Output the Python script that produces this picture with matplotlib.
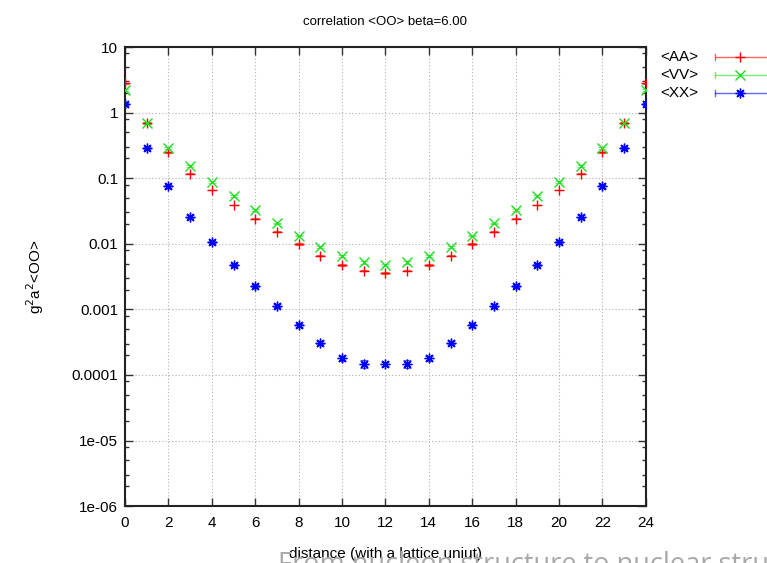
import numpy as np
import matplotlib
matplotlib.use('Agg')
import matplotlib.pyplot as plt
from matplotlib.lines import Line2D
from matplotlib.ticker import LogLocator, FixedLocator, NullFormatter

plt.rcParams['font.family'] = ['Liberation Sans', 'DejaVu Sans']

# ---------- data ----------
distance = list(range(25))
aa = [2.86, 0.69, 0.248, 0.117, 0.066, 0.039, 0.0242, 0.0153, 0.0099, 0.0066,
      0.00475, 0.00389, 0.00355, 0.00389, 0.00475, 0.0066, 0.0099, 0.0153,
      0.0242, 0.039, 0.066, 0.117, 0.248, 0.69, 2.86]
vv = [2.21, 0.70, 0.29, 0.153, 0.0875, 0.0535, 0.0327, 0.0205, 0.0133, 0.0089,
      0.0065, 0.0052, 0.00475, 0.0052, 0.0065, 0.0089, 0.0133, 0.0205, 0.0327,
      0.0535, 0.0875, 0.153, 0.29, 0.70, 2.21]
xx = [1.35, 0.285, 0.075, 0.026, 0.0106, 0.00475, 0.00228, 0.00114, 0.00057,
      0.000311, 0.000181, 0.000147, 0.000147, 0.000147, 0.000181, 0.000311,
      0.00057, 0.00114, 0.00228, 0.00475, 0.0106, 0.026, 0.075, 0.285, 1.35]
# rough error estimates (only visible around the minimum of <XX>)
aa_err = [0.15, 0.02, 0.005, 0.002, 0.001, 0.0006, 0.0004, 0.0003, 0.0002, 0.0001,
          0.0001, 0.0001, 0.0001, 0.0001, 0.0001, 0.0001, 0.0002, 0.0003, 0.0004,
          0.0006, 0.001, 0.002, 0.005, 0.02, 0.15]
vv_err = [0.1, 0.02, 0.008, 0.004, 0.002, 0.001, 0.0008, 0.0005, 0.0003, 0.0002,
          0.0002, 0.0002, 0.0002, 0.0002, 0.0002, 0.0002, 0.0003, 0.0005, 0.0008,
          0.001, 0.002, 0.004, 0.008, 0.02, 0.1]
xx_err = [0.05, 0.01, 0.003, 0.001, 0.0004, 0.0002, 0.0001, 0.00005, 0.00003,
          0.000015, 0.000016, 0.00002, 0.000012, 0.00002, 0.000016, 0.000015,
          0.00003, 0.00005, 0.0001, 0.0002, 0.0004, 0.001, 0.003, 0.01, 0.05]

labels = ['<AA>', '<VV>', '<XX>']
colors = ['#ff0000', '#22dd22', '#0000ff']
markers = ['+', 'x', (8, 2, 0)]

fig = plt.figure(figsize=(7.67, 5.63), dpi=100)
ax = fig.add_axes([0.163, 0.101, 0.679, 0.8155])

series = [(aa, aa_err), (vv, vv_err), (xx, xx_err)]
for (vals, errs), col, mk in zip(series, colors, markers):
    ax.errorbar(distance, vals, yerr=errs, fmt='none', ecolor=col,
                elinewidth=0.8, capsize=3, capthick=0.8, alpha=0.6, zorder=3)
    ax.plot(distance, vals, linestyle='none', marker=mk, color=col,
            markersize=7, markeredgewidth=1.0, zorder=4)

ax.set_yscale('log')
ax.set_xlim(0, 24)
ax.set_ylim(1e-6, 10)
ax.xaxis.set_major_locator(FixedLocator(range(0, 25, 2)))
ax.yaxis.set_minor_locator(LogLocator(base=10, subs=(2, 3, 5, 8), numticks=20))
ax.yaxis.set_minor_formatter(NullFormatter())
ax.set_yticks([1e-6, 1e-5, 1e-4, 1e-3, 1e-2, 1e-1, 1, 10])
ax.set_yticklabels(['1e-06', '1e-05', '0.0001', '0.001', '0.01', '0.1', '1', '10'])

ax.tick_params(which='both', direction='in', top=True, right=True,
               labelsize=11, color='#333333')
ax.tick_params(which='major', length=6, width=1)
ax.tick_params(which='minor', length=3, width=1)
ax.tick_params(axis='x', pad=7)
ax.tick_params(axis='y', pad=5)
ax.grid(True, which='major', linestyle=(0, (1, 2)), color='#b0b0b0', linewidth=0.8)
for sp in ax.spines.values():
    sp.set_linewidth(1.5)
    sp.set_color('#222222')

ax.set_title('correlation <OO> beta=6.00', fontsize=9.5, pad=16)
ax.set_xlabel('distance (with a lattice uniut)', fontsize=11, labelpad=12)
ax.xaxis.label.set_zorder(10)
ax.set_ylabel(r'g$^2$a$^2$<OO>', fontsize=11, labelpad=18)

# legend outside to the right, gnuplot style (text then line sample)
for i, (lab, col, mk) in enumerate(zip(labels, colors, markers)):
    yk = 1 - (57 + 18 * i) / 563
    fig.text(660 / 767, yk, lab, fontsize=11, ha='left', va='center')
    x0, x1, xm = 715 / 767, 770 / 767, 740 / 767
    fig.add_artist(Line2D([x0, x1], [yk, yk], color=col, lw=1, alpha=0.6,
                          transform=fig.transFigure))
    fig.add_artist(Line2D([x0, x0], [yk - 0.006, yk + 0.006], color=col, lw=1,
                          alpha=0.6, transform=fig.transFigure))
    fig.add_artist(Line2D([xm], [yk], marker=mk, color=col, markersize=7,
                          linestyle='none', transform=fig.transFigure))

# slide title bleeding in at the bottom (mostly cut off by the edge)
fig.text(278 / 767, 1 - 572 / 563, 'From nucleon structure to nuclear structure',
         fontsize=19.5, color='#a8a8a8', ha='left', va='baseline', zorder=0,
         family=['Open Sans', 'DejaVu Sans'])

fig.savefig('out.png', dpi=100)
